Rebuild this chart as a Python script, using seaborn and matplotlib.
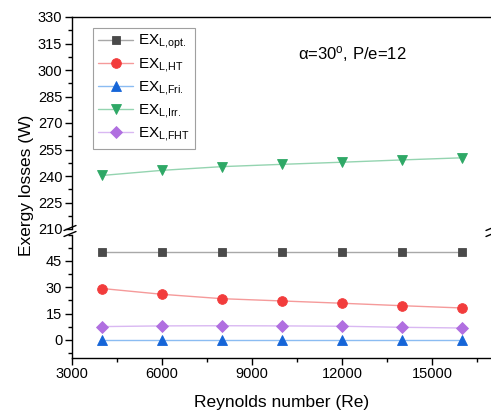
import numpy as np
import pandas as pd
import matplotlib
matplotlib.use("Agg")
import matplotlib.pyplot as plt
from matplotlib.lines import Line2D
from matplotlib.ticker import MultipleLocator
import seaborn as sns

# Exergy losses versus Reynolds number
reynolds = [4000, 6000, 8000, 10000, 12000, 14000, 16000]
ex_opt = [50.2, 50.2, 50.2, 50.2, 50.2, 50.2, 50.2]
ex_ht = [29.3, 26.0, 23.5, 22.2, 20.9, 19.5, 18.2]
ex_fri = [0.1, 0.1, 0.1, 0.1, 0.1, 0.1, 0.1]
ex_irr = [240.3, 243.2, 245.3, 246.6, 247.8, 249.1, 250.3]
ex_fht = [7.6, 8.0, 8.1, 8.0, 7.8, 7.2, 6.8]

labels = ["opt.", "HT", "Fri.", "Irr.", "FHT"]
series = [ex_opt, ex_ht, ex_fri, ex_irr, ex_fht]
marker_colors = ["#4a4a4a", "#f23c3c", "#1565d8", "#2ea866", "#b06fe0"]
line_colors = ["#a8a8a8", "#f59a9a", "#8bbcf2", "#94d4b0", "#d9b8f2"]
markers = ["s", "o", "^", "v", "D"]
msizes = [6.0, 7.0, 7.0, 7.0, 5.8]

sns.set_theme(style="white")
plt.rcParams["font.family"] = ["Liberation Sans", "DejaVu Sans"]
plt.rcParams["mathtext.fontset"] = "custom"
plt.rcParams["mathtext.rm"] = "Liberation Sans"
plt.rcParams["mathtext.it"] = "Liberation Sans"
plt.rcParams["text.color"] = "black"
plt.rcParams["axes.labelcolor"] = "black"
plt.rcParams["xtick.color"] = "black"
plt.rcParams["ytick.color"] = "black"

W, H = 491, 413
fig = plt.figure(figsize=(W / 100, H / 100), dpi=100)

def fx(px):
    return px / W

def fy(py):
    return 1 - py / H

left, right = 72, 492
ax_top = fig.add_axes([fx(left), fy(229), fx(right - left), fy(17) - fy(229)])
ax_bot = fig.add_axes([fx(left), fy(357.5), fx(right - left), fy(234.6) - fy(357.5)])

frames = []
for lab, vals in zip(labels, series):
    frames.append(pd.DataFrame({"Re": reynolds, "value": vals, "series": lab}))
df = pd.concat(frames, ignore_index=True)

handles = []
for i, lab in enumerate(labels):
    target = ax_top if lab == "Irr." else ax_bot
    sub = df[df["series"] == lab]
    sns.lineplot(data=sub, x="Re", y="value", ax=target, color=line_colors[i],
                 lw=1.0, marker=markers[i], markersize=msizes[i],
                 markerfacecolor=marker_colors[i], markeredgecolor=marker_colors[i],
                 markeredgewidth=0.6, legend=False)
    handles.append(Line2D([0], [0], color=line_colors[i], lw=1.0, marker=markers[i],
                          markersize=msizes[i], markerfacecolor=marker_colors[i],
                          markeredgecolor=marker_colors[i], markeredgewidth=0.6,
                          label="EX$_{\\mathregular{L{,}%s}}$" % lab))

for ax in (ax_top, ax_bot):
    ax.set_xlim(3000, 17000)
    ax.set_facecolor("none")
    ax.xaxis.set_major_locator(MultipleLocator(3000))
    ax.xaxis.set_minor_locator(MultipleLocator(1500))
    ax.tick_params(which="major", direction="out", length=5, width=1, color="black",
                   labelsize=10.5, pad=2, labelcolor="black")
    ax.tick_params(which="minor", direction="out", length=3, width=1, color="black")
    ax.spines["right"].set_visible(False)
    for s in ax.spines.values():
        s.set_color("black")
        s.set_linewidth(1.0)
    ax.set_xlabel("")
    ax.set_ylabel("")

ax_top.set_ylim(210, 330)
ax_top.yaxis.set_major_locator(MultipleLocator(15))
ax_top.yaxis.set_minor_locator(MultipleLocator(7.5))
ax_top.spines["bottom"].set_visible(False)
ax_top.tick_params(axis="x", which="both", bottom=False, labelbottom=False)

ax_bot.set_ylim(-10, 60)
ax_bot.set_yticks([0, 15, 30, 45])
ax_bot.yaxis.set_minor_locator(MultipleLocator(7.5))
ax_bot.spines["top"].set_visible(False)
ax_bot.set_xlabel("Reynolds number (Re)", fontsize=12.5, labelpad=10, color="black")
ax_bot.xaxis.set_ticks_position("bottom")
ax_top.yaxis.set_ticks_position("left")
ax_bot.yaxis.set_ticks_position("left")

fig.text(fx(26), fy(185), "Exergy losses (W)", rotation=90, fontsize=12.5,
         ha="center", va="center", color="black")

# axis break marks
for x0 in (64, 486):
    for y0 in (230.5, 236.5):
        fig.add_artist(Line2D([fx(x0), fx(x0 + 12)], [fy(y0), fy(y0 - 5)],
                              color="black", lw=1.0, transform=fig.transFigure))

leg = ax_top.legend(handles=handles, loc="upper left", bbox_to_anchor=(0.05, 0.95),
                    fontsize=11, frameon=True, fancybox=False, edgecolor="#888888",
                    handlelength=2.3, handletextpad=0.3, labelspacing=0.33,
                    borderpad=0.35, borderaxespad=0)
leg.get_frame().set_linewidth(0.8)

ax_top.text(0.668, 0.825, "α=30$^{\\mathregular{o}}$, P/e=12", transform=ax_top.transAxes,
            fontsize=12, ha="center", va="center", color="black")

fig.savefig("out.png", dpi=100)
